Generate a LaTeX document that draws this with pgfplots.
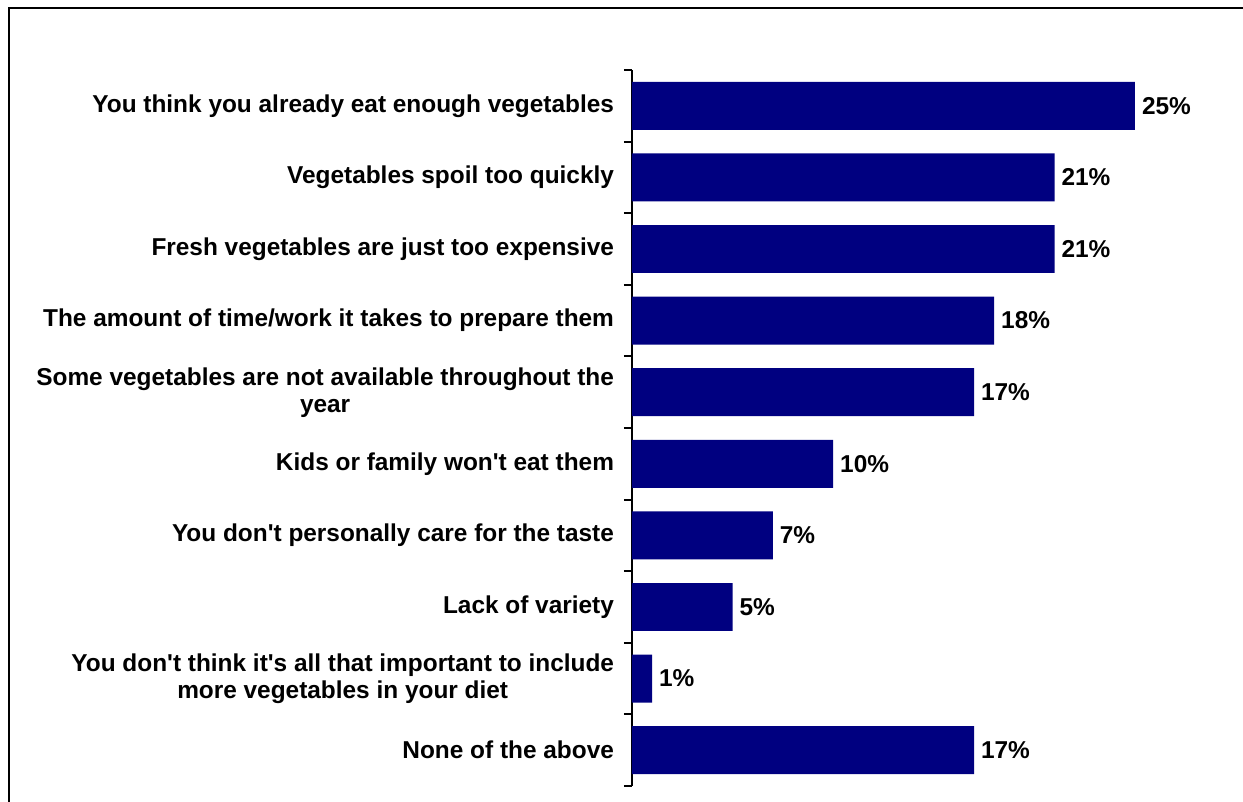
\documentclass[border=0pt]{standalone}
\usepackage{pgfplots}
\pgfplotsset{compat=1.18}
\usepackage{fontspec}
\setmainfont{Liberation Sans}
\definecolor{navybar}{RGB}{0,0,128}
\begin{document}
\begin{tikzpicture}
\path[use as bounding box] (-316bp,-8bp) rectangle (305.5bp,393bp);
\draw[line width=1bp] (-311.5bp,-20bp) -- (-311.5bp,389bp) -- (320bp,389bp);
\begin{axis}[
  at={(0,0)}, anchor=south west,
  scale only axis,
  width=301.8bp, height=358bp,
  xmin=0, xmax=30,
  ymin=-0.5, ymax=9.5,
  axis x line=none,
  axis y line*=left,
  axis line style={line width=1bp, black},
  xbar, bar width=0.67,
  ytick={0,1,2,3,4,5,6,7,8,9},
  yticklabels={
    None of the above,
    {You don\textquotesingle t think it\textquotesingle s all that important to include\\more vegetables in your diet},
    Lack of variety,
    You don\textquotesingle t personally care for the taste,
    Kids or family won\textquotesingle t eat them,
    {Some vegetables are not available throughout the\\year},
    The amount of time/work it takes to prepare them,
    Fresh vegetables are just too expensive,
    Vegetables spoil too quickly,
    You think you already eat enough vegetables},
  yticklabel style={align=center, font=\fontsize{12.2bp}{13.5bp}\selectfont\bfseries, xshift=-5.5bp},
  major tick length=0pt,
  minor ytick={-0.5,0.5,1.5,2.5,3.5,4.5,5.5,6.5,7.5,8.5,9.5},
  minor tick length=4bp,
  tick align=outside,
  tick style={line width=1bp, black},
  point meta=x,
  nodes near coords={\pgfmathprintnumber{\pgfplotspointmeta}\%},
  nodes near coords style={font=\fontsize{12.2bp}{13.5bp}\selectfont\bfseries, anchor=west, xshift=0bp, /pgf/number format/assume math mode=true},
  clip=false,
]
\addplot[fill=navybar, draw=none] coordinates {
  (17,0) (1,1) (5,2) (7,3) (10,4) (17,5) (18,6) (21,7) (21,8) (25,9)
};
\end{axis}
\end{tikzpicture}
\end{document}
